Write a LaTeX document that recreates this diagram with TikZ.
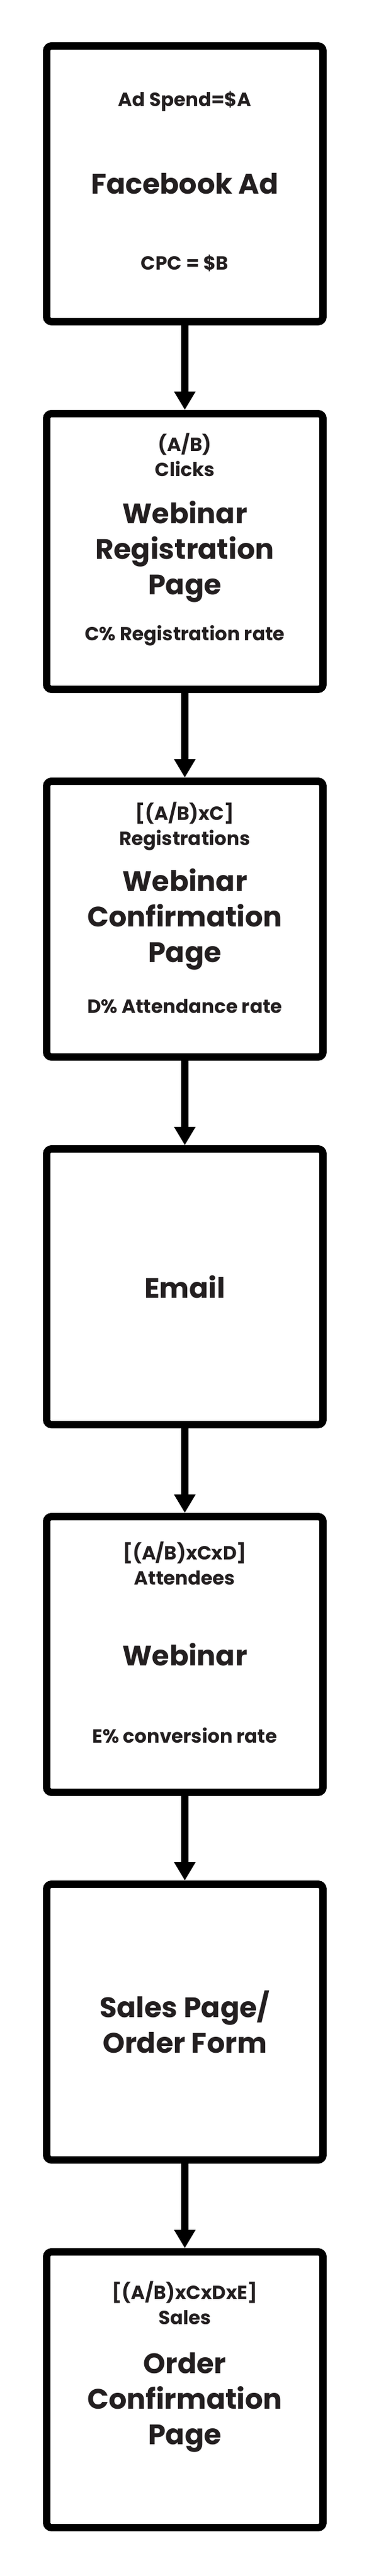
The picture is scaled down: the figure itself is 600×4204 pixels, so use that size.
\documentclass[tikz,border=0pt]{standalone}
\usepackage{fontspec}
\setmainfont{Poppins}
\usetikzlibrary{positioning,arrows.meta}
\definecolor{encre}{HTML}{231F20}
\newcommand{\titre}{\bfseries\fontsize{46}{58}\selectfont}
\newcommand{\petit}{\bfseries\fontsize{31}{41}\selectfont}
\begin{document}
\begin{tikzpicture}[x=1pt,y=1pt]
		% définition des styles
		\tikzstyle{etape}=[rectangle,draw=black,line width=12pt,rounded corners=8pt,minimum width=450pt,minimum height=450pt,align=center,text=encre,font=\titre]
		\tikzstyle{chiffre}=[align=center,inner sep=0pt,text=encre,font=\petit]
		\tikzstyle{suivant}=[-{Triangle[length=30pt,width=33pt]},line width=12pt,black]
		\useasboundingbox (0,0) rectangle (600,-4204);
		% les étapes
		\node[etape] (ad) at (301,-300) {Facebook Ad};
		\node[etape,below=138pt of ad] (inscr) {Webinar\\Registration\\Page};
		\node[etape,below=138pt of inscr] (confirm) {Webinar\\Confirmation\\Page};
		\node[etape,below=138pt of confirm] (email) {Email};
		\node[etape,below=138pt of email] (webinar) {Webinar};
		\node[etape,below=138pt of webinar] (vente) {Sales Page/\\Order Form};
		\node[etape,below=138pt of vente] (commande) {};
		\node[chiffre,font=\titre] (commandetitre) at ([yshift=-21pt]commande.center) {Order\\Confirmation\\Page};
		% les chiffres
		\node[chiffre] (depense) at ([yshift=135pt]ad.center) {Ad Spend=\$A};
		\node[chiffre] (cpc) at ([yshift=-130pt]ad.center) {CPC = \$B};
		\node[chiffre] (clics) at ([yshift=158pt]inscr.center) {(A/B)\\Clicks};
		\node[chiffre] (tauxinscr) at ([yshift=-137pt]inscr.center) {C\% Registration rate};
		\node[chiffre] (inscrits) at ([yshift=151pt]confirm.center) {[(A/B)xC]\\Registrations};
		\node[chiffre] (presence) at ([yshift=-142pt]confirm.center) {D\% Attendance rate};
		\node[chiffre] (presents) at ([yshift=149pt]webinar.center) {[(A/B)xCxD]\\Attendees};
		\node[chiffre] (conversion) at ([yshift=-132pt]webinar.center) {E\% conversion rate};
		\node[chiffre] (ventes) at ([yshift=142pt]commande.center) {[(A/B)xCxDxE]\\Sales};
		% les flèches
		\draw[suivant] (ad) -- (inscr);
		\draw[suivant] (inscr) -- (confirm);
		\draw[suivant] (confirm) -- (email);
		\draw[suivant] (email) -- (webinar);
		\draw[suivant] (webinar) -- (vente);
		\draw[suivant] (vente) -- (commande);
\end{tikzpicture}
\end{document}
